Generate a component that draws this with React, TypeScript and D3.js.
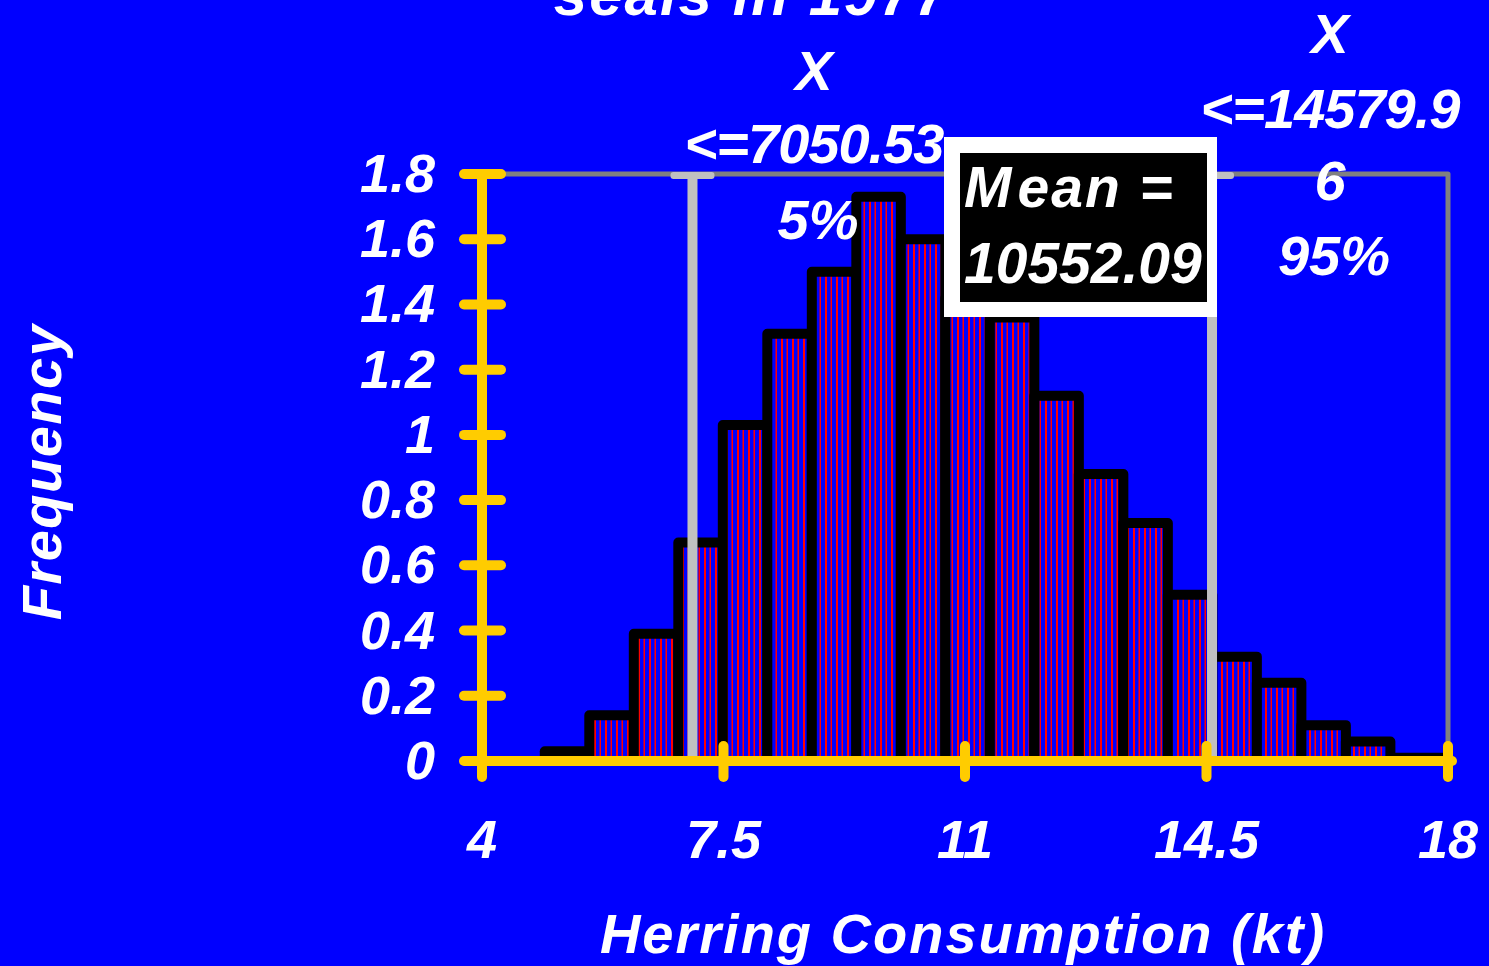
import * as d3 from 'd3'
import {useRef, useEffect} from 'react'

// histogram of simulated herring consumption (frequency per bin)
const binStart = 4.91
const binWidth = 0.645
const freq = [0.03, 0.14, 0.39, 0.67, 1.03, 1.31, 1.5, 1.73, 1.6, 1.42, 1.36, 1.12, 0.88, 0.73, 0.51, 0.32, 0.24, 0.11, 0.06, 0.01]
const xTicks = [4, 7.5, 11, 14.5, 18]
const yTicks = [0, 0.2, 0.4, 0.6, 0.8, 1, 1.2, 1.4, 1.6, 1.8]
const lowPct = 7.05053
const highPct = 14.57996
const lowLines = ['X', '<=7050.53', '5%']
const highLines = ['X', '<=14579.9', '6', '95%']
const meanLines = ['Mean =', '10552.09']

const W = 1489
const H = 966
const FONT = 'Arial, "Liberation Sans", sans-serif'

const App = () => {
  const svgRef = useRef(null)

  useEffect(() => {
    const svg = d3.select(svgRef.current)
    svg.selectAll('*').remove()

    const x = d3.scaleLinear().domain([4, 18]).range([482, 1448])
    const y = d3.scaleLinear().domain([0, 1.8]).range([761, 174])

    svg.append('rect').attr('width', W).attr('height', H).attr('fill', '#0000ff')

    const defs = svg.append('defs')
    const pat = defs.append('pattern')
      .attr('id', 'stripes')
      .attr('patternUnits', 'userSpaceOnUse')
      .attr('width', 11).attr('height', 10)
    pat.append('rect').attr('width', 11).attr('height', 10).attr('fill', '#0000ff')
    pat.append('rect').attr('x', 0).attr('width', 2).attr('height', 10).attr('fill', '#ff0000')
    pat.append('rect').attr('x', 5.5).attr('width', 1.5).attr('height', 10).attr('fill', '#ff0000')

    // plot frame
    svg.append('path')
      .attr('d', `M${x(4)},${y(1.8)}H${x(18)}V${y(0)}`)
      .attr('fill', 'none').attr('stroke', '#808080').attr('stroke-width', 5)
      .attr('stroke-linecap', 'round').attr('stroke-linejoin', 'round')

    // bars
    svg.selectAll('rect.bar')
      .data(freq)
      .enter()
      .append('rect')
      .attr('class', 'bar')
      .attr('x', (d, i) => x(binStart + i * binWidth))
      .attr('width', (d, i) => {
        const x0 = binStart + i * binWidth
        const x1 = i === freq.length - 1 ? 18 : x0 + binWidth
        return x(x1) - x(x0)
      })
      .attr('y', d => y(d))
      .attr('height', d => y(0) - y(d))
      .attr('fill', 'url(#stripes)')
      .attr('stroke', '#000').attr('stroke-width', 10)
      .attr('stroke-linejoin', 'round')

    // percentile lines
    ;[lowPct, highPct].forEach(v => {
      svg.append('line')
        .attr('x1', x(v)).attr('x2', x(v))
        .attr('y1', y(1.8)).attr('y2', y(0))
        .attr('stroke', '#c0c0c0').attr('stroke-width', 10)
      svg.append('rect')
        .attr('x', x(v) - 22).attr('y', y(1.8) - 2)
        .attr('width', 44).attr('height', 7).attr('rx', 3)
        .attr('fill', '#c0c0c0')
    })

    // yellow axes
    const ax = svg.append('g')
      .attr('stroke', '#ffcc00').attr('stroke-width', 10).attr('stroke-linecap', 'round')
    ax.append('line').attr('x1', x(4)).attr('x2', x(4)).attr('y1', y(1.8)).attr('y2', y(0))
    ax.append('line').attr('x1', x(4)).attr('x2', x(18) + 4).attr('y1', y(0)).attr('y2', y(0))
    ax.selectAll('line.yt').data(yTicks).enter().append('line')
      .attr('class', 'yt')
      .attr('x1', x(4) - 18).attr('x2', x(4) + 19)
      .attr('y1', d => y(d)).attr('y2', d => y(d))
    ax.selectAll('line.xt').data(xTicks).enter().append('line')
      .attr('class', 'xt')
      .attr('x1', d => x(d)).attr('x2', d => x(d))
      .attr('y1', y(0) - 15).attr('y2', y(0) + 16)

    const txt = svg.append('g')
      .attr('fill', '#fff').attr('font-family', FONT)
      .attr('font-weight', 'bold').attr('font-style', 'italic')

    txt.selectAll('text.yl').data(yTicks).enter().append('text')
      .attr('class', 'yl')
      .attr('x', 435).attr('y', d => y(d) + 18)
      .attr('text-anchor', 'end').attr('font-size', 54)
      .text(d => d3.format('~g')(d))

    txt.selectAll('text.xl').data(xTicks).enter().append('text')
      .attr('class', 'xl')
      .attr('x', d => x(d)).attr('y', 858)
      .attr('text-anchor', 'middle').attr('font-size', 54)
      .text(d => String(d))

    txt.append('text')
      .attr('x', 963).attr('y', 953)
      .attr('text-anchor', 'middle').attr('font-size', 56)
      .attr('letter-spacing', 2)
      .text('Herring Consumption (kt)')

    txt.append('text')
      .attr('transform', 'translate(61,472) rotate(-90)')
      .attr('text-anchor', 'middle').attr('font-size', 56)
      .attr('letter-spacing', 1.5)
      .text('Frequency')

    txt.append('text')
      .attr('x', 752).attr('y', 15)
      .attr('text-anchor', 'middle').attr('font-size', 60)
      .attr('letter-spacing', 2)
      .text('seals in 1977')

    const lowY = [90, 163, 239]
    lowLines.forEach((t, i) => {
      txt.append('text')
        .attr('x', i === 2 ? 818 : 814).attr('y', lowY[i])
        .attr('text-anchor', 'middle').attr('font-size', 56)
        .attr('letter-spacing', i === 1 ? -1 : 0)
        .text(t)
    })
    const highY = [53, 128, 200, 275]
    highLines.forEach((t, i) => {
      txt.append('text')
        .attr('x', i === 3 ? 1334 : 1330).attr('y', highY[i])
        .attr('text-anchor', 'middle').attr('font-size', 56)
        .attr('letter-spacing', i === 1 ? -1 : 0)
        .text(t)
    })

    // mean box
    svg.append('rect').attr('x', 944).attr('y', 137).attr('width', 273).attr('height', 180).attr('fill', '#fff')
    svg.append('rect').attr('x', 960).attr('y', 153).attr('width', 247).attr('height', 149).attr('fill', '#000')
    const mt = svg.append('g')
      .attr('fill', '#fff').attr('font-family', FONT)
      .attr('font-weight', 'bold').attr('font-style', 'italic').attr('font-size', 57)
    const m0 = mt.append('text').attr('x', 964).attr('y', 207)
    m0.append('tspan').text(meanLines[0].slice(0, 1))
    m0.append('tspan').attr('dx', 6).attr('letter-spacing', 2).text(meanLines[0].slice(1))
    mt.append('text').attr('x', 964).attr('y', 283).text(meanLines[1])
  }, [])

  return (
    <svg ref={svgRef} width={W} height={H}
      style={{position: 'absolute', left: 0, top: 0, display: 'block'}} />
  )
}

export default App
